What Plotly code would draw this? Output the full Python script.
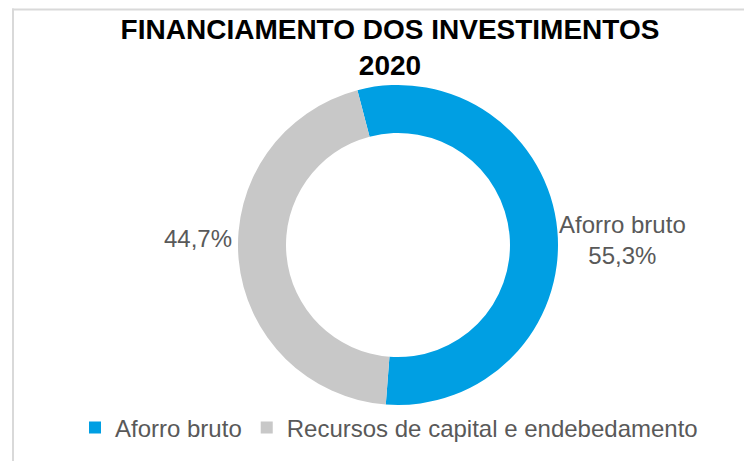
import plotly.graph_objects as go

# Data
categories = ["Aforro bruto", "Recursos de capital e endebedamento"]
shares = [55.3, 44.7]
colors = ["#009FE3", "#C8C8C8"]
title_lines = ["FINANCIAMENTO DOS INVESTIMENTOS", "2020"]

# the page body adds an 8px margin, so the figure is drawn 8px smaller
OFF = 8
W, H = 752 - OFF, 461 - OFF
FONT = "Liberation Sans, Arial, sans-serif"
TXT = "#595959"

def px_x(x):
    return (x - OFF) / W

def px_y(y):
    return 1 - (y - OFF) / H

cx, cy, R = 398, 245, 160

fig = go.Figure()
fig.add_trace(go.Pie(
    labels=categories,
    values=shares,
    hole=0.70,
    sort=False,
    direction="clockwise",
    rotation=-14.7,
    marker=dict(colors=colors, line=dict(width=0)),
    textinfo="none",
    hoverinfo="label+percent",
    domain=dict(x=[px_x(cx - R), px_x(cx + R)], y=[px_y(cy + R), px_y(cy - R)]),
))

def fmt(v):
    return f"{v:.1f}".replace(".", ",") + "%"

annotations = [
    dict(text=f"{categories[0]}<br>{fmt(shares[0])}", x=px_x(622), y=px_y(240),
         xref="paper", yref="paper", xanchor="center", yanchor="middle",
         showarrow=False, align="center", font=dict(family=FONT, size=24, color=TXT)),
    dict(text=fmt(shares[1]), x=px_x(234), y=px_y(238),
         xref="paper", yref="paper", xanchor="right", yanchor="middle",
         showarrow=False, font=dict(family=FONT, size=24, color=TXT)),
]

shapes = [
    dict(type="line", xref="paper", yref="paper", x0=px_x(12), x1=px_x(770),
         y0=1 - 1.5 / H, y1=1 - 1.5 / H, line=dict(color="#D9D9D9", width=2)),
    dict(type="line", xref="paper", yref="paper", x0=px_x(13), x1=px_x(13),
         y0=1 - 0.5 / H, y1=px_y(480), line=dict(color="#D9D9D9", width=2)),
]

fig.update_layout(
    width=W, height=H,
    margin=dict(l=0, r=0, t=0, b=0),
    paper_bgcolor="white",
    plot_bgcolor="white",
    title=dict(
        text="<b>" + "<br>".join(title_lines) + "</b>",
        x=px_x(390), xref="paper", xanchor="center",
        y=px_y(39), yref="paper", yanchor="middle",
        font=dict(family=FONT, size=28, color="black"),
    ),
    showlegend=True,
    legend=dict(
        orientation="h",
        x=px_x(75), y=px_y(428), xanchor="left", yanchor="middle",
        font=dict(family=FONT, size=24, color=TXT),
        traceorder="normal",
        bgcolor="rgba(0,0,0,0)",
    ),
    annotations=annotations,
    shapes=shapes,
)

fig.write_html("out.html")
